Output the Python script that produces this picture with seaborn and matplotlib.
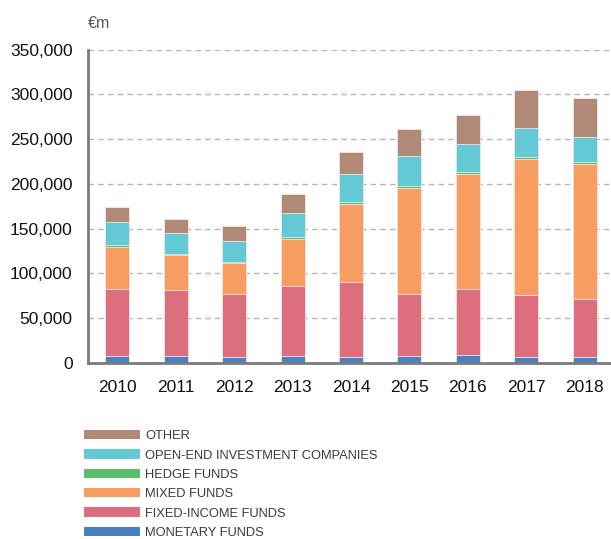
import matplotlib
matplotlib.use("Agg")
import matplotlib.pyplot as plt
from matplotlib.patches import Patch
from matplotlib.ticker import FuncFormatter, MultipleLocator
import seaborn as sns
import pandas as pd
import numpy as np

years = ["2010", "2011", "2012", "2013", "2014", "2015", "2016", "2017", "2018"]
monetary = [7400, 7800, 6300, 7800, 6700, 7800, 8900, 6700, 6700]
fixed_income = [75000, 73500, 70500, 77900, 83900, 69400, 73500, 69000, 64900]
mixed = [47500, 39000, 34600, 53100, 86800, 118000, 128800, 152600, 150700]
hedge = [1500, 1500, 1400, 1500, 1900, 1900, 1900, 2200, 2300]
open_end = [26400, 23700, 23800, 27100, 31500, 33800, 31900, 31900, 27800]
other = [16300, 15200, 16000, 21500, 24500, 30400, 31900, 42300, 43400]

series_names = ["MONETARY FUNDS", "FIXED-INCOME FUNDS", "MIXED FUNDS",
                "HEDGE FUNDS", "OPEN-END INVESTMENT COMPANIES", "OTHER"]
series_vals = [monetary, fixed_income, mixed, hedge, open_end, other]
colors = ["#4a80c0", "#dc6e7e", "#f79d62", "#5bbd6a", "#62c9d5", "#b08a77"]

sns.set_theme(style="white")
plt.rcParams["font.family"] = ["Liberation Sans", "DejaVu Sans"]

fig = plt.figure(figsize=(6.11, 5.39), dpi=100)
ax = fig.add_axes([88 / 611, 1 - 363 / 539, 526 / 611, (363 - 49.5) / 539])

cum = np.cumsum(np.array(series_vals, dtype=float), axis=0)
df = pd.DataFrame({"year": years})
# draw from top layer downwards so each lower layer covers the upper cumulative
for i in range(len(series_names) - 1, -1, -1):
    df["v"] = cum[i]
    sns.barplot(data=df, x="year", y="v", color=colors[i], saturation=1,
                width=0.41, edgecolor="#f3e6e6", linewidth=0.6, ax=ax)

ax.set_ylim(0, 350000)
ax.set_xlim(-0.5, 8.5)
ax.yaxis.set_major_locator(MultipleLocator(50000))
ax.yaxis.set_major_formatter(FuncFormatter(lambda v, p: f"{int(v):,}"))
ax.set_xlabel("")
ax.set_ylabel("")
ax.grid(axis="y", color="#b5b5b5", linestyle=(0, (4, 3)), linewidth=1.0)
ax.set_axisbelow(True)

for s in ["top", "right"]:
    ax.spines[s].set_visible(False)
for s in ["left", "bottom"]:
    ax.spines[s].set_color("#7a7a7f")
    ax.spines[s].set_linewidth(2)

ax.tick_params(axis="both", labelsize=12.5, colors="#111111", length=0)
ax.tick_params(axis="y", pad=11)
ax.tick_params(axis="x", pad=12)
ax.set_xticks(np.arange(-0.5, 9, 1.0), minor=True)
ax.tick_params(axis="x", which="minor", direction="in", length=5, width=1,
               color="#7a7a7f")
for lbl in ax.get_xticklabels() + ax.get_yticklabels():
    lbl.set_color("#111111")

fig.text(88 / 611, 1 - 23 / 539, "€m", fontsize=11.5, color="#555555",
         va="center", ha="left")

handles = [Patch(facecolor=colors[i], edgecolor="none") for i in range(5, -1, -1)]
labels = [series_names[i] for i in range(5, -1, -1)]
leg = fig.legend(handles, labels, loc="upper left",
                 bbox_to_anchor=(84 / 611, 1 - 430 / 539),
                 frameon=False, handlelength=4.3,
                 handleheight=0.75, handletextpad=0.45, labelspacing=0.55,
                 borderpad=0, borderaxespad=0,
                 prop={"family": ["Liberation Sans", "DejaVu Sans"],
                       "size": 9.3})
for t in leg.get_texts():
    t.set_color("#3a3a3a")

fig.savefig("out.png", dpi=100)
